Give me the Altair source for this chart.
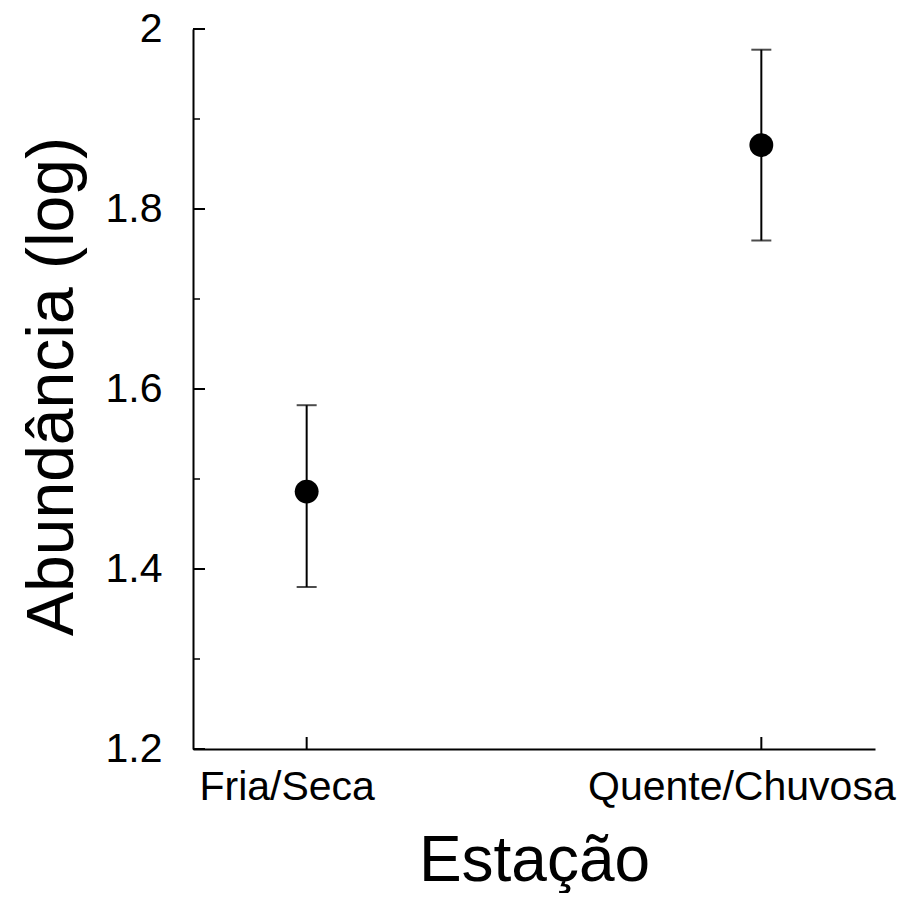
import altair as alt
import pandas as pd

# Data
categories = ["Fria/Seca", "Quente/Chuvosa"]
positions = [1, 2]
means = [1.486, 1.871]
lowers = [1.380, 1.765]
uppers = [1.582, 1.977]

y_major = [1.2, 1.4, 1.6, 1.8, 2.0]
y_minor = [1.3, 1.5, 1.7, 1.9]

FONT = "Liberation Sans"
W, H = 682, 720

df = pd.DataFrame({"cat": categories, "pos": positions, "mean": means,
                   "lo": lowers, "hi": uppers})
ymaj = pd.DataFrame({"v": y_major})
ymin = pd.DataFrame({"v": y_minor})
xt = pd.DataFrame({"p": positions})

label_expr = " : ".join(
    [f"datum.value == {p} ? '{c}'" for p, c in zip(positions, categories)] + ["''"]
)

xscale = alt.Scale(domain=[0.75, 2.25], nice=False, zero=False)
yscale = alt.Scale(domain=[1.2, 2.0], nice=False, zero=False)

xaxis = alt.Axis(values=positions, labelExpr=label_expr, title="Estação",
                 grid=False, ticks=False, tickSize=0, domainColor="black",
                 domainWidth=2, labelFont=FONT, labelFontSize=41, labelColor="black",
                 labelPadding=18, labelOffset=-20, labelFlush=False, labelLimit=0,
                 titleFont=FONT, titleFontSize=64, titleFontWeight="normal",
                 titleColor="black", titleY=131, titleBaseline="alphabetic")
yaxis = alt.Axis(values=y_major, labelExpr="format(datum.value, '.1~f')",
                 title="Abundância (log)", grid=False, ticks=False, tickSize=0,
                 domainColor="black", domainWidth=2, labelFont=FONT,
                 labelFontSize=41, labelColor="black", labelPadding=31,
                 labelFlush=False, labelLimit=0, titleFont=FONT, titleFontSize=66,
                 titleFontWeight="normal", titleColor="black", titleAngle=-90,
                 titleX=-121, titleY=357, titleAlign="center",
                 titleBaseline="alphabetic")

base = alt.Chart(df)

bars = base.mark_rule(color="black", strokeWidth=2).encode(
    x=alt.X("pos:Q", scale=xscale, axis=xaxis),
    y=alt.Y("lo:Q", scale=yscale, axis=yaxis),
    y2="hi:Q",
)
cap_lo = base.mark_tick(color="black", size=20, thickness=2, orient="horizontal").encode(
    x=alt.X("pos:Q", scale=xscale), y=alt.Y("lo:Q", scale=yscale))
cap_hi = base.mark_tick(color="black", size=20, thickness=2, orient="horizontal").encode(
    x=alt.X("pos:Q", scale=xscale), y=alt.Y("hi:Q", scale=yscale))
pts = base.mark_circle(color="black", opacity=1, size=570).encode(
    x=alt.X("pos:Q", scale=xscale), y=alt.Y("mean:Q", scale=yscale))

ymaj_t = alt.Chart(ymaj).mark_rule(color="black", strokeWidth=2).encode(
    y=alt.Y("v:Q", scale=yscale), x=alt.value(0), x2=alt.value(12))
ymin_t = alt.Chart(ymin).mark_rule(color="black", strokeWidth=1.5).encode(
    y=alt.Y("v:Q", scale=yscale), x=alt.value(0), x2=alt.value(7))
x_t = alt.Chart(xt).mark_rule(color="black", strokeWidth=2).encode(
    x=alt.X("p:Q", scale=xscale), y=alt.value(H), y2=alt.value(H - 12))

chart = alt.layer(bars, cap_lo, cap_hi, pts, ymaj_t, ymin_t, x_t).properties(
    width=W, height=H,
    background="white",
    autosize=alt.AutoSizeParams(type="none"),
    padding={"left": 185, "top": 21, "right": 22, "bottom": 144},
).configure_view(strokeWidth=0, stroke="transparent").configure_axis(
    ticks=False, grid=False, tickSize=0
)

chart.save("out.html", embed_options={"renderer": "svg", "actions": False})
